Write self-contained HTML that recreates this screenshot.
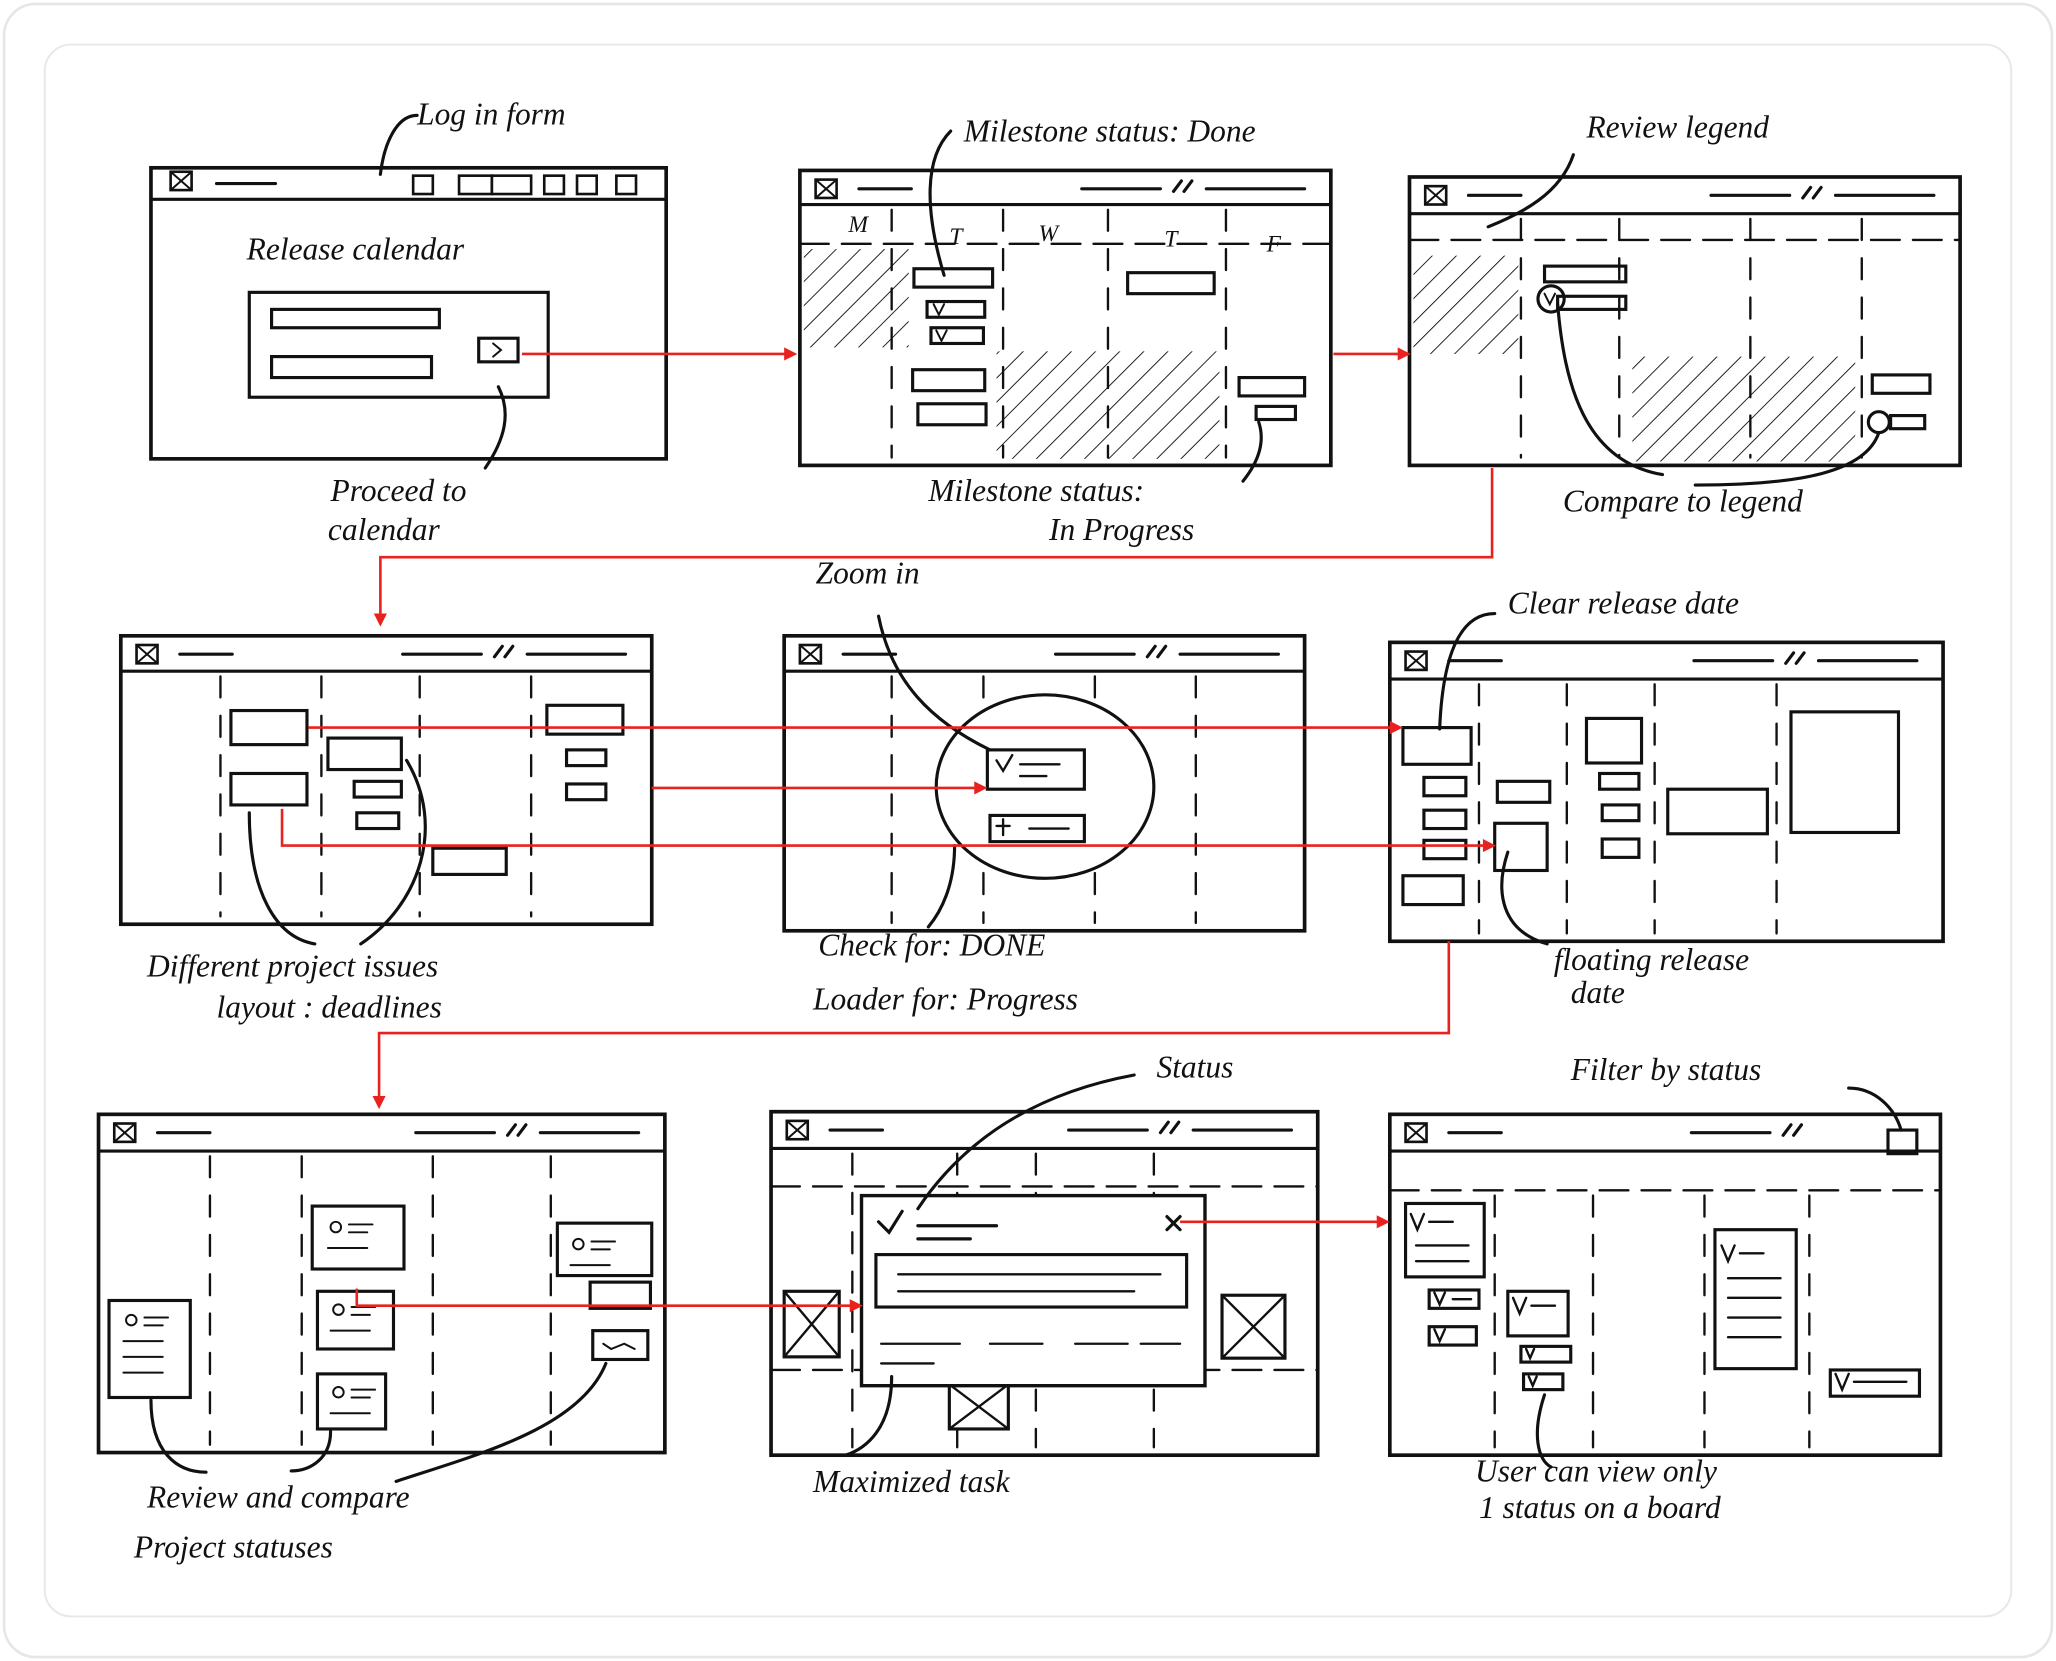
<!DOCTYPE html>
<html><head><meta charset="utf-8">
<style>
html,body{margin:0;padding:0;background:#fff;}
svg{display:block;}
text{font-family:"Liberation Serif",serif;font-style:italic;fill:#111;}
</style></head>
<body>
<svg width="2056" height="1661" viewBox="0 0 1568 1267" xmlns="http://www.w3.org/2000/svg">
<defs>
<pattern id="hp" patternUnits="userSpaceOnUse" width="13" height="13" patternTransform="rotate(45)">
<line x1="0" y1="0" x2="0" y2="13" stroke="#111" stroke-width="1.4"/>
</pattern>
</defs>
<rect x="3" y="3" width="1562" height="1261" rx="24" fill="#fff" stroke="#e6e6e6" stroke-width="2"/>
<rect x="34" y="34" width="1500" height="1199" rx="20" fill="#fff" stroke="#e8e8e8" stroke-width="1.5"/>

<!-- hatches -->
<rect x="613" y="190" width="80" height="75" fill="url(#hp)"/>
<rect x="760" y="268" width="170" height="82" fill="url(#hp)"/>
<rect x="1078" y="195" width="80" height="75" fill="url(#hp)"/>
<rect x="1245" y="272" width="170" height="80" fill="url(#hp)"/>

<g fill="none" stroke="#111" stroke-width="2.4" stroke-linecap="round">
<!-- P1 -->
<rect x="115" y="128" width="393" height="222" stroke-width="2.8"/>
<path d="M115 152 H508"/>
<rect x="130" y="131" width="16" height="14" stroke-width="2"/>
<path d="M130 131 l16 14 M146 131 l-16 14" stroke-width="1.5"/>
<path d="M165 140 h45"/>
<rect x="315" y="134" width="15" height="14" stroke-width="2"/>
<rect x="350" y="134" width="25" height="14" stroke-width="2"/>
<rect x="375" y="134" width="30" height="14" stroke-width="2"/>
<rect x="415" y="134" width="15" height="14" stroke-width="2"/>
<rect x="440" y="134" width="15" height="14" stroke-width="2"/>
<rect x="470" y="134" width="15" height="14" stroke-width="2"/>
<rect x="190" y="223" width="228" height="80"/>
<rect x="207" y="236" width="128" height="14"/>
<rect x="207" y="272" width="122" height="16"/>
<rect x="365" y="258" width="30" height="18"/>
<path d="M376 262 l6 5 l-6 5" stroke-width="1.5"/>

<!-- P2 -->
<rect x="610" y="130" width="405" height="225" stroke-width="2.8"/>
<path d="M610 156 H1015"/>
<rect x="622" y="137" width="16" height="14" stroke-width="2"/>
<path d="M622 137 l16 14 M638 137 l-16 14" stroke-width="1.5"/>
<path d="M655 144 h40 M825 144 h60 M895 146 l6 -8 M903 146 l6 -8 M920 144 h75"/>
<path d="M610 186 H1015" stroke-dasharray="22 10" stroke-width="1.8"/>
<path d="M680 160 V349 M765 160 V349 M845 160 V349 M935 160 V349" stroke-dasharray="16 14" stroke-width="1.8"/>
<rect x="697" y="205" width="60" height="14"/>
<rect x="707" y="230" width="44" height="12"/>
<rect x="710" y="250" width="40" height="12"/>
<path d="M712 232 l4 8 l4 -8 M714 252 l4 8 l4 -8" stroke-width="1.5"/>
<rect x="696" y="282" width="55" height="16"/>
<rect x="700" y="308" width="52" height="16"/>
<rect x="860" y="208" width="66" height="16"/>
<rect x="945" y="288" width="50" height="14"/>
<rect x="958" y="310" width="30" height="10"/>

<!-- P3 -->
<rect x="1075" y="135" width="420" height="220" stroke-width="2.8"/>
<path d="M1075 163 H1495"/>
<rect x="1087" y="142" width="16" height="14" stroke-width="2"/>
<path d="M1087 142 l16 14 M1103 142 l-16 14" stroke-width="1.5"/>
<path d="M1120 149 h40 M1305 149 h60 M1375 151 l6 -8 M1383 151 l6 -8 M1400 149 h75"/>
<path d="M1075 183 H1495" stroke-dasharray="22 10" stroke-width="1.8"/>
<path d="M1160 167 V349 M1235 167 V349 M1335 167 V349 M1420 167 V349" stroke-dasharray="16 14" stroke-width="1.8"/>
<rect x="1178" y="203" width="62" height="12"/>
<rect x="1188" y="226" width="52" height="10"/>
<circle cx="1183" cy="228" r="10"/>
<path d="M1178 224 l4 8 l4 -8" stroke-width="1.5"/>
<rect x="1428" y="286" width="44" height="14"/>
<circle cx="1433" cy="322" r="8"/>
<rect x="1442" y="317" width="26" height="10"/>

<!-- P4 -->
<rect x="92" y="485" width="405" height="220" stroke-width="2.8"/>
<path d="M92 512 H497"/>
<rect x="104" y="492" width="16" height="14" stroke-width="2"/>
<path d="M104 492 l16 14 M120 492 l-16 14" stroke-width="1.5"/>
<path d="M137 499 h40 M307 499 h60 M377 501 l6 -8 M385 501 l6 -8 M402 499 h75"/>
<path d="M168 516 V699 M245 516 V699 M320 516 V699 M405 516 V699" stroke-dasharray="16 14" stroke-width="1.8"/>
<rect x="176" y="542" width="58" height="26"/>
<rect x="176" y="590" width="58" height="24"/>
<rect x="250" y="563" width="56" height="24"/>
<rect x="270" y="596" width="36" height="12"/>
<rect x="272" y="620" width="32" height="12"/>
<rect x="417" y="538" width="58" height="22"/>
<rect x="432" y="572" width="30" height="12"/>
<rect x="432" y="598" width="30" height="12"/>
<rect x="330" y="647" width="56" height="20"/>

<!-- P5 -->
<rect x="598" y="485" width="397" height="225" stroke-width="2.8"/>
<path d="M598 512 H995"/>
<rect x="610" y="492" width="16" height="14" stroke-width="2"/>
<path d="M610 492 l16 14 M626 492 l-16 14" stroke-width="1.5"/>
<path d="M643 499 h40 M805 499 h60 M875 501 l6 -8 M883 501 l6 -8 M900 499 h75"/>
<path d="M680 516 V704 M750 516 V704 M835 516 V704 M912 516 V704" stroke-dasharray="16 14" stroke-width="1.8"/>
<ellipse cx="797" cy="600" rx="83" ry="70" fill="#fff"/>
<rect x="753" y="572" width="74" height="30"/>
<rect x="755" y="622" width="72" height="20"/>
<path d="M760 580 l5 8 l7 -12 M778 583 h30 M778 592 h20 M760 630 l10 0 M765 625 v12 M785 632 h30" stroke-width="1.8"/>

<!-- P6 -->
<rect x="1060" y="490" width="422" height="228" stroke-width="2.8"/>
<path d="M1060 518 H1482"/>
<rect x="1072" y="497" width="16" height="14" stroke-width="2"/>
<path d="M1072 497 l16 14 M1088 497 l-16 14" stroke-width="1.5"/>
<path d="M1105 504 h40 M1292 504 h60 M1362 506 l6 -8 M1370 506 l6 -8 M1387 504 h75"/>
<path d="M1128 522 V712 M1195 522 V712 M1262 522 V712 M1355 522 V712" stroke-dasharray="16 14" stroke-width="1.8"/>
<rect x="1070" y="555" width="52" height="28"/>
<rect x="1086" y="593" width="32" height="14"/>
<rect x="1086" y="618" width="32" height="14"/>
<rect x="1086" y="641" width="32" height="14"/>
<rect x="1070" y="668" width="46" height="22"/>
<rect x="1142" y="596" width="40" height="16"/>
<rect x="1140" y="628" width="40" height="36"/>
<rect x="1210" y="548" width="42" height="34"/>
<rect x="1220" y="590" width="30" height="12"/>
<rect x="1222" y="614" width="28" height="12"/>
<rect x="1222" y="640" width="28" height="14"/>
<rect x="1272" y="602" width="76" height="34"/>
<rect x="1366" y="543" width="82" height="92"/>

<!-- P7 -->
<rect x="75" y="850" width="432" height="258" stroke-width="2.8"/>
<path d="M75 878 H507"/>
<rect x="87" y="857" width="16" height="14" stroke-width="2"/>
<path d="M87 857 l16 14 M103 857 l-16 14" stroke-width="1.5"/>
<path d="M120 864 h40 M317 864 h60 M387 866 l6 -8 M395 866 l6 -8 M412 864 h75"/>
<path d="M160 882 V1102 M230 882 V1102 M330 882 V1102 M420 882 V1102" stroke-dasharray="16 14" stroke-width="1.8"/>
<rect x="238" y="920" width="70" height="48" fill="#fff"/>
<rect x="242" y="985" width="58" height="44" fill="#fff"/>
<rect x="242" y="1048" width="52" height="42" fill="#fff"/>
<rect x="425" y="933" width="72" height="40" fill="#fff"/>
<rect x="450" y="978" width="46" height="20" fill="#fff"/>
<rect x="452" y="1015" width="42" height="22" fill="#fff"/>
<rect x="83" y="992" width="62" height="74" fill="#fff"/>
<g stroke-width="1.5">
<circle cx="256" cy="936" r="4"/><path d="M266 934 h18 M266 940 h14 M250 952 h30"/>
<circle cx="258" cy="999" r="4"/><path d="M268 997 h18 M268 1003 h14 M252 1015 h30"/>
<circle cx="258" cy="1062" r="4"/><path d="M268 1060 h18 M268 1066 h14 M252 1078 h30"/>
<circle cx="441" cy="949" r="4"/><path d="M451 947 h18 M451 953 h14 M435 965 h30"/>
<circle cx="100" cy="1007" r="4"/><path d="M110 1005 h18 M110 1011 h14 M94 1023 h30 M94 1035 h30 M94 1047 h30"/>
<path d="M460 1025 l6 4 l10 -4 l8 4"/>
</g>

<!-- P8 -->
<rect x="588" y="848" width="417" height="262" stroke-width="2.8"/>
<path d="M588 876 H1005"/>
<rect x="600" y="855" width="16" height="14" stroke-width="2"/>
<path d="M600 855 l16 14 M616 855 l-16 14" stroke-width="1.5"/>
<path d="M633 862 h40 M815 862 h60 M885 864 l6 -8 M893 864 l6 -8 M910 862 h75"/>
<path d="M650 880 V1104 M730 880 V1104 M790 880 V1104 M880 880 V1104" stroke-dasharray="16 14" stroke-width="1.8"/>
<path d="M588 905 H1005 M588 1045 H1005" stroke-dasharray="22 10" stroke-width="1.8"/>
<rect x="598" y="985" width="42" height="50" fill="#fff"/>
<path d="M598 985 l42 50 M640 985 l-42 50" stroke-width="1.8"/>
<rect x="932" y="988" width="48" height="48" fill="#fff"/>
<path d="M932 988 l48 48 M980 988 l-48 48" stroke-width="1.8"/>
<rect x="724" y="1056" width="45" height="34" fill="#fff"/>
<path d="M724 1056 l45 34 M769 1056 l-45 34" stroke-width="1.8"/>
<rect x="657" y="912" width="262" height="145" fill="#fff" stroke-width="2.6"/>
<path d="M670 932 l8 8 l10 -16 M700 935 h60 M890 928 l10 10 M900 928 l-10 10 M700 945 h40"/>
<rect x="668" y="957" width="237" height="40"/>
<path d="M685 972 h200 M685 985 h180 M672 1025 h60 M755 1025 h40 M820 1025 h40 M870 1025 h30 M672 1040 h40" stroke-width="1.8"/>

<!-- P9 -->
<rect x="1060" y="850" width="420" height="260" stroke-width="2.8"/>
<path d="M1060 878 H1480"/>
<rect x="1072" y="857" width="16" height="14" stroke-width="2"/>
<path d="M1072 857 l16 14 M1088 857 l-16 14" stroke-width="1.5"/>
<path d="M1105 864 h40 M1290 864 h60 M1360 866 l6 -8 M1368 866 l6 -8"/>
<path d="M1060 908 H1480" stroke-dasharray="22 10" stroke-width="1.8"/>
<path d="M1140 912 V1104 M1215 912 V1104 M1300 912 V1104 M1380 912 V1104" stroke-dasharray="16 14" stroke-width="1.8"/>
<rect x="1440" y="862" width="22" height="18"/>
<rect x="1072" y="918" width="60" height="56" fill="#fff"/>
<rect x="1090" y="984" width="38" height="14" fill="#fff"/>
<rect x="1090" y="1012" width="36" height="14" fill="#fff"/>
<rect x="1150" y="985" width="46" height="34" fill="#fff"/>
<rect x="1160" y="1027" width="38" height="12" fill="#fff"/>
<rect x="1162" y="1048" width="30" height="12" fill="#fff"/>
<rect x="1308" y="938" width="62" height="106" fill="#fff"/>
<rect x="1396" y="1045" width="68" height="20" fill="#fff"/>
<path d="M1076 926 l5 12 l5 -12 M1090 932 h18 M1094 986 l4 9 l4 -9 M1108 991 h14 M1094 1014 l4 9 l4 -9 M1154 990 l5 12 l5 -12 M1168 996 h18 M1164 1029 l3 7 l3 -7 M1166 1050 l3 7 l3 -7 M1313 950 l5 12 l5 -12 M1327 956 h18 M1400 1048 l5 12 l5 -12 M1414 1054 h40 M1080 950 h40 M1080 962 h40 M1318 975 h40 M1318 990 h40 M1318 1005 h40 M1318 1020 h40" stroke-width="1.8"/>

<!-- pointers -->
<path d="M318 88 c-15 0 -25 20 -28 45"/>
<path d="M380 295 c10 20 5 40 -10 62"/>
<path d="M725 100 c-20 20 -20 60 -5 110"/>
<path d="M960 322 c5 15 0 30 -12 45"/>
<path d="M1200 118 c-10 30 -40 45 -65 55"/>
<path d="M1188 232 c5 60 20 120 80 130"/>
<path d="M1433 330 c-10 30 -60 40 -140 40"/>
<path d="M670 470 c10 50 40 80 85 102"/>
<path d="M728 645 c0 30 -10 50 -20 62"/>
<path d="M1140 468 c-30 0 -40 40 -42 88"/>
<path d="M1150 650 c-10 30 -5 60 30 70"/>
<path d="M190 620 c0 60 20 95 50 100"/>
<path d="M310 580 c30 50 10 110 -35 140"/>
<path d="M700 922 c40 -60 100 -90 165 -102"/>
<path d="M1410 830 c20 0 35 15 40 32"/>
<path d="M115 1068 c0 40 20 55 42 55"/>
<path d="M252 1092 c0 20 -15 30 -30 30"/>
<path d="M462 1040 c-20 50 -100 70 -160 90"/>
<path d="M680 1050 c0 40 -20 55 -35 60"/>
<path d="M1178 1064 c-10 30 -5 50 5 55"/>
</g>

<g fill="none" stroke="#e8231f" stroke-width="2">
<path d="M398 270 H600"/><path d="M1017 270 H1068"/>
<path d="M1138 357 V425 H290 V470"/>
<path d="M235 555 H1062"/><path d="M497 601 H745"/>
<path d="M215 617 V645 H1133"/>
<path d="M1105 718 V788 H289 V838"/>
<path d="M272 983 V996 H650"/>
<path d="M900 932 H1052"/>
</g>
<g fill="#e8231f">
<path d="M608 270 l-10 -5 v10z"/><path d="M1076 270 l-10 -5 v10z"/>
<path d="M290 478 l-5 -10 h10z"/><path d="M1070 555 l-10 -5 v10z"/>
<path d="M753 601 l-10 -5 v10z"/><path d="M1141 645 l-10 -5 v10z"/>
<path d="M289 846 l-5 -10 h10z"/><path d="M658 996 l-10 -5 v10z"/>
<path d="M1060 932 l-10 -5 v10z"/>
</g>
<g font-size="24">
<text x="318" y="95">Log in form</text>
<text x="188" y="198">Release calendar</text>
<text x="252" y="382">Proceed to</text>
<text x="250" y="412">calendar</text>
<text x="735" y="108">Milestone status: Done</text>
<text x="708" y="382">Milestone status:</text>
<text x="800" y="412">In Progress</text>
<text x="1210" y="105">Review legend</text>
<text x="1192" y="390">Compare to legend</text>
<text x="622" y="445">Zoom in</text>
<text x="1150" y="468">Clear release date</text>
<text x="112" y="745">Different project issues</text>
<text x="165" y="776">layout : deadlines</text>
<text x="624" y="729">Check for: DONE</text>
<text x="620" y="770">Loader for: Progress</text>
<text x="1185" y="740">floating release</text>
<text x="1198" y="765">date</text>
<text x="882" y="822">Status</text>
<text x="1198" y="824">Filter by status</text>
<text x="112" y="1150">Review and compare</text>
<text x="102" y="1188">Project statuses</text>
<text x="620" y="1138">Maximized task</text>
<text x="1125" y="1130">User can view only</text>
<text x="1128" y="1158">1 status on a board</text>
</g>
<g font-size="18">
<text x="647" y="177">M</text><text x="724" y="186">T</text><text x="792" y="184">W</text><text x="888" y="188">T</text><text x="966" y="192">F</text>
</g>
</svg>
</body></html>
